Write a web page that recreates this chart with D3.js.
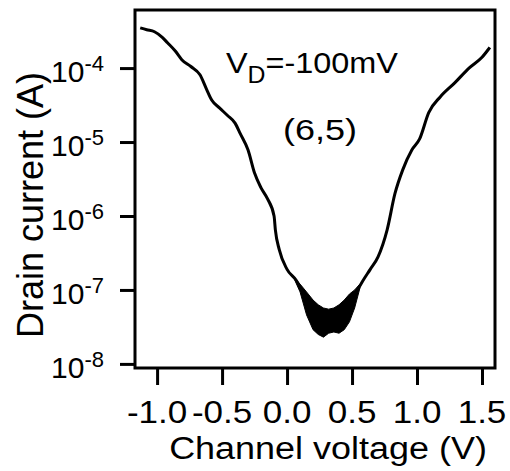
<!DOCTYPE html>
<html>
<head>
<meta charset="utf-8">
<script src="https://cdn.jsdelivr.net/npm/d3@7"></script>
<style>
  html, body { margin: 0; padding: 0; background: #fff; }
  svg { display: block; }
  text { font-family: "Liberation Sans", Arial, sans-serif; fill: #000; }
</style>
</head>
<body>
<div id="chart"></div>
<script>
// --- Courbe principale (V, A)
const voltage = [-1.13, -1.08, -1.02, -0.96, -0.92, -0.86, -0.81, -0.74, -0.67, -0.62,
  -0.58, -0.52, -0.46, -0.40, -0.36, -0.30, -0.25, -0.20, -0.15, -0.10,
  -0.09, -0.06, 0.00, 0.07, 0.14, 0.20, 0.25, 0.30, 0.35, 0.40,
  0.45, 0.50, 0.55, 0.58, 0.64, 0.70, 0.77, 0.83, 0.89, 0.96,
  1.02, 1.09, 1.18, 1.29, 1.40, 1.50, 1.56];
const current = [3.5e-4, 3.3e-4, 3.1e-4, 2.6e-4, 2.2e-4, 1.7e-4, 1.3e-4, 1.05e-4, 8.1e-5, 5.2e-5,
  3.7e-5, 2.9e-5, 2.3e-5, 1.8e-5, 1.3e-5, 7.8e-6, 3.8e-6, 2.4e-6, 1.7e-6, 1.0e-6,
  6.5e-7, 3.5e-7, 1.9e-7, 1.35e-7, 7.8e-8, 5.4e-8, 4.2e-8, 3.7e-8, 4.0e-8, 4.3e-8,
  5.0e-8, 7.3e-8, 1.05e-7, 1.3e-7, 1.9e-7, 2.8e-7, 6.5e-7, 2.0e-6, 4.2e-6, 7.8e-6,
  1.1e-5, 2.5e-5, 4.1e-5, 6.3e-5, 1.0e-4, 1.4e-4, 1.9e-4];

// --- Bande de bruit autour du minimum (enveloppes haute / basse)
const bandVoltage = [0.06, 0.10, 0.15, 0.20, 0.24, 0.28, 0.32, 0.36, 0.40, 0.44, 0.48, 0.52, 0.56];
const bandUpper = [1.45e-7, 1.2e-7, 9.4e-8, 7.3e-8, 6.3e-8, 5.7e-8, 5.5e-8, 5.7e-8, 6.3e-8, 7.3e-8, 8.8e-8, 1.0e-7, 1.2e-7];
const bandLower = [1.35e-7, 9.4e-8, 4.6e-8, 2.9e-8, 2.5e-8, 2.3e-8, 2.6e-8, 2.7e-8, 2.6e-8, 2.9e-8, 3.7e-8, 5.7e-8, 1.05e-7];

// --- Graduations
const xTicks = [-1.0, -0.5, 0.0, 0.5, 1.0, 1.5];
const xTickLabels = ["-1.0", "-0.5", "0.0", "0.5", "1.0", "1.5"];
const yTicks = [1e-8, 1e-7, 1e-6, 1e-5, 1e-4];
const yTickExp = ["-8", "-7", "-6", "-5", "-4"];

const width = 510, height = 471;
const plot = { left: 135, right: 495, top: 10, bottom: 368 };

const svg = d3.select("#chart").append("svg")
  .attr("width", width)
  .attr("height", height);

const x = d3.scaleLinear().domain([-1.17, 1.6]).range([plot.left, plot.right]);
const y = d3.scaleLog().domain([8.8e-9, 6.1e-4]).range([plot.bottom, plot.top]);

// petit utilitaire : texte étiré horizontalement comme sur l'image
function place(sel, px, py, sx) {
  return sel.attr("transform", `translate(${px},${py}) scale(${sx},1)`);
}

// --- Bande (zone noire)
const band = bandVoltage.map((v, i) => ({ v, hi: bandUpper[i], lo: bandLower[i] }));
svg.append("path")
  .datum(band)
  .attr("fill", "#000")
  .attr("stroke", "#000")
  .attr("stroke-width", 1)
  .attr("d", d3.area()
    .x(d => x(d.v))
    .y0(d => y(d.lo))
    .y1(d => y(d.hi)));

// --- Courbe
const pts = voltage.map((v, i) => ({ v, c: current[i] }));
svg.append("path")
  .datum(pts)
  .attr("fill", "none")
  .attr("stroke", "#000")
  .attr("stroke-width", 3)
  .attr("stroke-linejoin", "round")
  .attr("d", d3.line()
    .x(d => x(d.v))
    .y(d => y(d.c))
    .curve(d3.curveMonotoneX));

// --- Cadre
svg.append("rect")
  .attr("x", plot.left)
  .attr("y", plot.top)
  .attr("width", plot.right - plot.left)
  .attr("height", plot.bottom - plot.top)
  .attr("fill", "none")
  .attr("stroke", "#000")
  .attr("stroke-width", 3);

// --- Axe X
const gx = svg.append("g")
  .attr("transform", `translate(0,${plot.bottom})`)
  .call(d3.axisBottom(x).tickValues(xTicks).tickSize(17).tickFormat(""));
gx.select(".domain").remove();
gx.selectAll(".tick line").attr("stroke", "#000").attr("stroke-width", 3);

xTicks.forEach((t, i) => {
  svg.append("text")
    .attr("text-anchor", "middle")
    .style("font-size", "31px")
    .text(xTickLabels[i])
    .call(place, x(t), 423, 1.13);
});

// --- Axe Y
const gy = svg.append("g")
  .attr("transform", `translate(${plot.left},0)`)
  .call(d3.axisLeft(y).tickValues(yTicks).tickSize(15).tickFormat(""));
gy.select(".domain").remove();
gy.selectAll(".tick line").attr("stroke", "#000").attr("stroke-width", 3);

yTicks.forEach((t, i) => {
  const lbl = svg.append("text")
    .attr("text-anchor", "end")
    .attr("x", 104)
    .attr("y", y(t) + 14)
    .style("font-size", "30px");
  lbl.append("tspan").text("10");
  lbl.append("tspan")
    .attr("dy", -11)
    .style("font-size", "22px")
    .text(yTickExp[i]);
});

// --- Titres des axes
svg.append("text")
  .attr("text-anchor", "middle")
  .style("font-size", "31px")
  .text("Channel voltage (V)")
  .call(place, 328, 459, 1.16);

svg.append("text")
  .attr("text-anchor", "middle")
  .attr("transform", "translate(43,205) rotate(-90)")
  .style("font-size", "36px")
  .text("Drain current (A)");

// --- Annotations
const ann = svg.append("text")
  .style("font-size", "30px")
  .call(place, 226, 73, 1.08);
ann.append("tspan").text("V");
ann.append("tspan").attr("dy", 10).style("font-size", "23px").text("D");
ann.append("tspan").attr("dy", -10).text("=-100mV");

svg.append("text")
  .attr("text-anchor", "middle")
  .style("font-size", "30px")
  .text("(6,5)")
  .call(place, 320, 140, 1.2);
</script>
</body>
</html>
